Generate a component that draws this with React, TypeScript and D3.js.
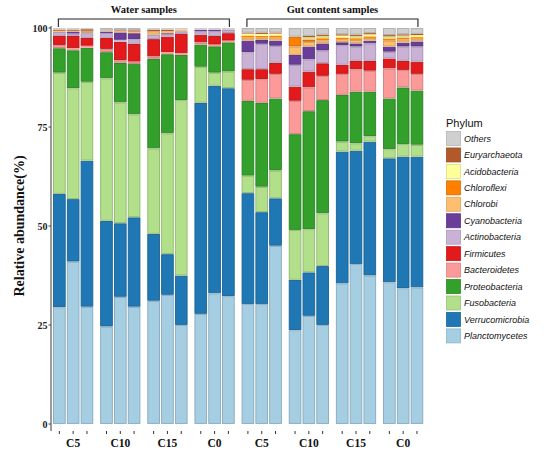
import React from 'react';
import * as d3 from 'd3';

// ---------- data ----------
const groupLabels = ['C5', 'C10', 'C15', 'C0', 'C5', 'C10', 'C15', 'C0'];
const sampleNames = [
  'W-C5-1', 'W-C5-2', 'W-C5-3', 'W-C10-1', 'W-C10-2', 'W-C10-3',
  'W-C15-1', 'W-C15-2', 'W-C15-3', 'W-C0-1', 'W-C0-2', 'W-C0-3',
  'G-C5-1', 'G-C5-2', 'G-C5-3', 'G-C10-1', 'G-C10-2', 'G-C10-3',
  'G-C15-1', 'G-C15-2', 'G-C15-3', 'G-C0-1', 'G-C0-2', 'G-C0-3',
];
const yTicks = [0, 25, 50, 75, 100];

const Planctomycetes = [29.5, 41.0, 29.6, 24.6, 32.1, 29.6, 31.1, 32.6, 25.0, 27.8, 33.0, 32.3, 30.3, 30.3, 45.0, 23.7, 27.3, 25.0, 35.5, 40.4, 37.5, 35.8, 34.3, 34.5];
const Verrucomicrobia = [28.6, 15.8, 36.9, 26.7, 18.6, 22.6, 16.9, 10.3, 12.5, 53.3, 52.4, 52.5, 28.0, 23.2, 12.0, 12.7, 11.0, 14.9, 33.3, 28.6, 33.8, 31.3, 33.2, 33.0];
const Fusobacteria = [30.6, 28.0, 19.9, 36.0, 30.5, 26.0, 21.6, 30.5, 44.3, 9.1, 3.3, 4.2, 4.4, 6.4, 7.0, 12.6, 10.9, 13.3, 2.5, 1.9, 1.4, 2.3, 3.2, 3.0];
const Proteobacteria = [6.2, 9.6, 8.6, 6.6, 10.0, 12.7, 22.6, 20.0, 11.4, 5.6, 6.7, 7.4, 18.9, 21.2, 18.2, 24.2, 29.8, 28.6, 11.8, 13.0, 11.2, 12.8, 14.3, 13.7];
const Bacteroidetes = [0.8, 0.5, 0.5, 0.8, 0.7, 0.6, 0.6, 0.5, 0.4, 0.6, 0.4, 0.4, 5.3, 6.0, 6.2, 8.4, 6.0, 6.1, 5.3, 5.7, 5.3, 7.6, 4.4, 4.2];
const Firmicutes = [2.3, 3.1, 2.0, 2.8, 4.6, 4.5, 4.4, 3.9, 4.9, 1.9, 2.2, 1.9, 2.7, 2.5, 2.8, 3.6, 4.0, 3.2, 2.3, 2.1, 2.5, 2.5, 2.3, 3.1];
const Actinobacteria = [1.0, 0.6, 1.2, 1.2, 0.5, 1.2, 1.1, 0.7, 0.7, 0.9, 1.2, 0.8, 4.3, 6.4, 4.3, 5.5, 3.1, 3.2, 5.0, 3.6, 4.4, 1.7, 3.6, 3.8];
const Cyanobacteria = [0, 0.5, 0, 0.4, 1.9, 1.5, 0, 0.2, 0, 0.3, 0.3, 0, 2.9, 1.0, 1.3, 2.5, 3.2, 1.8, 0.7, 0.8, 0.7, 1.3, 1.0, 1.3];
const Chlorobi = [0.3, 0.2, 0.6, 0.2, 0.3, 0.4, 0.9, 0.5, 0.4, 0, 0, 0, 0.8, 0.6, 0.8, 2.1, 1.2, 0.8, 0.8, 0.9, 0.7, 1.5, 0.8, 0.7];
const Chloroflexi = [0, 0, 0, 0, 0, 0, 0, 0, 0, 0, 0, 0, 0.5, 0.4, 0.5, 2.5, 0.6, 0.5, 0.4, 0.4, 0.4, 0.5, 0.4, 0.4];
const Acidobacteria = [0, 0, 0, 0, 0, 0, 0, 0, 0, 0, 0, 0, 0.5, 0.5, 0.5, 0, 0.6, 0.6, 0.5, 0.6, 0.5, 0.6, 0.6, 0.5];
const Euryarchaeota = [0.3, 0.3, 0.4, 0, 0.2, 0.3, 0.4, 0.3, 0, 0, 0, 0, 0.2, 0.3, 0.2, 0, 0.3, 0.3, 0.3, 0.3, 0.3, 0.3, 0.3, 0.3];
const Others = [0.4, 0.4, 0.3, 0.7, 0.6, 0.6, 0.4, 0.5, 0.4, 0.5, 0.5, 0.5, 1.2, 1.2, 1.2, 2.2, 2.0, 1.7, 1.6, 1.7, 1.3, 1.8, 1.6, 1.5];

// bottom -> top
const phyla = [
  'Planctomycetes', 'Verrucomicrobia', 'Fusobacteria', 'Proteobacteria', 'Bacteroidetes',
  'Firmicutes', 'Actinobacteria', 'Cyanobacteria', 'Chlorobi', 'Chloroflexi',
  'Acidobacteria', 'Euryarchaeota', 'Others',
];
const seriesValues: Record<string, number[]> = {
  Planctomycetes, Verrucomicrobia, Fusobacteria, Proteobacteria, Bacteroidetes,
  Firmicutes, Actinobacteria, Cyanobacteria, Chlorobi, Chloroflexi,
  Acidobacteria, Euryarchaeota, Others,
};
const phylumColors = [
  '#A6CEE3', '#1F78B4', '#B2DF8A', '#33A02C', '#FB9A99',
  '#E31A1C', '#CAB2D6', '#6A3D9A', '#FDBF6F', '#FF7F00',
  '#FFFF99', '#B15928', '#CFCFCF',
];
const sections = [
  { label: 'Water samples', from: 0, to: 11 },
  { label: 'Gut content samples', from: 12, to: 23 },
];

// ---------- component ----------
export default function App() {
  const W = 552, H = 457;
  const y = d3.scaleLinear().domain([0, 100]).range([424, 28]);
  const gx = d3.scaleBand<number>().domain(d3.range(8)).range([53, 423.3]).paddingInner(0.145).paddingOuter(0);
  const ix = d3.scaleBand<number>().domain([0, 1, 2]).range([0, gx.bandwidth()]).paddingInner(0.08);
  const color = d3.scaleOrdinal<string, string>().domain(phyla).range(phylumColors);

  const table = sampleNames.map((s, i) => {
    const row: any = { sample: s, idx: i };
    phyla.forEach((p) => (row[p] = seriesValues[p][i]));
    return row;
  });
  const stacked = d3.stack<any>().keys(phyla)(table);

  const barX = (i: number) => (gx(Math.floor(i / 3)) as number) + (ix(i % 3) as number);
  const bw = ix.bandwidth();
  const serif = "'Liberation Serif', 'Times New Roman', serif";
  const sans = "'Liberation Sans', Arial, sans-serif";

  const legendItems = phyla.slice().reverse();

  return (
    <svg width={W} height={H} style={{ position: 'absolute', left: 0, top: 0, background: '#fff' }}>
      <rect x={0} y={0} width={W} height={H} fill="#fff" />
      {/* bars */}
      {stacked.map((layer, li) => {
        const fill = color(layer.key);
        const stroke = d3.color(fill)!.darker(0.55).formatHex();
        return (
          <g key={layer.key}>
            {layer.map((d, i) => {
              const y0 = y(d[1]);
              const h = y(d[0]) - y(d[1]);
              if (h <= 0.01) return null;
              const x = barX(i);
              if (h < 2.2) {
                return <rect key={i} x={x} y={y0} width={bw} height={h} fill={fill} />;
              }
              return (
                <rect key={i} x={x + 0.5} y={y0 + 0.6} width={bw - 1} height={h - 1.2}
                  fill={fill} stroke={stroke} strokeWidth={0.9} />
              );
            })}
          </g>
        );
      })}

      {/* y axis */}
      <line x1={51} x2={51} y1={26} y2={431} stroke="#666" strokeWidth={1.3} />
      {yTicks.map((t) => (
        <g key={t}>
          <line x1={48.5} x2={51} y1={y(t)} y2={y(t)} stroke="#444" strokeWidth={1} />
          <text x={47.5} y={y(t)} dy="0.35em" textAnchor="end" fontFamily={serif} fontWeight="bold" fontSize={10} fill="#222">{t}</text>
        </g>
      ))}
      <text transform={`translate(24,226) rotate(-90)`} textAnchor="middle" fontFamily={serif} fontWeight="bold" fontSize={14} fill="#111">Relative abundance(%)</text>

      {/* x ticks + group labels */}
      {sampleNames.map((s, i) => (
        <line key={s} x1={barX(i) + bw / 2} x2={barX(i) + bw / 2} y1={431} y2={434} stroke="#333" strokeWidth={1} />
      ))}
      {groupLabels.map((g, gi) => (
        <text key={gi} x={(gx(gi) as number) + gx.bandwidth() / 2} y={447} textAnchor="middle" fontFamily={serif} fontWeight="bold" fontSize={11.5} fill="#111">{g}</text>
      ))}

      {/* section brackets */}
      {sections.map((s) => {
        const x1 = barX(s.from) + bw / 2 - 1;
        const x2 = barX(s.to) + bw / 2 + 1;
        return (
          <g key={s.label}>
            <path d={`M${x1},27 V19 H${x2} V27`} fill="none" stroke="#222" strokeWidth={1.1} />
            <text x={(x1 + x2) / 2} y={13} textAnchor="middle" fontFamily={serif} fontWeight="bold" fontSize={10.5} fill="#111">{s.label}</text>
          </g>
        );
      })}

      {/* legend */}
      <text x={446} y={127} fontFamily={sans} fontSize={11} fill="#111">Phylum</text>
      {legendItems.map((p, k) => {
        const ky = 131 + k * 16.45;
        const fill = color(p);
        return (
          <g key={p}>
            <rect x={446.5} y={ky + 0.5} width={14} height={14} fill={fill} stroke={d3.color(fill)!.darker(0.4).formatHex()} strokeWidth={0.8} />
            <text x={464} y={ky + 7.5} dy="0.35em" fontFamily={sans} fontStyle="italic" fontSize={9} fill="#111">{p}</text>
          </g>
        );
      })}
    </svg>
  );
}
